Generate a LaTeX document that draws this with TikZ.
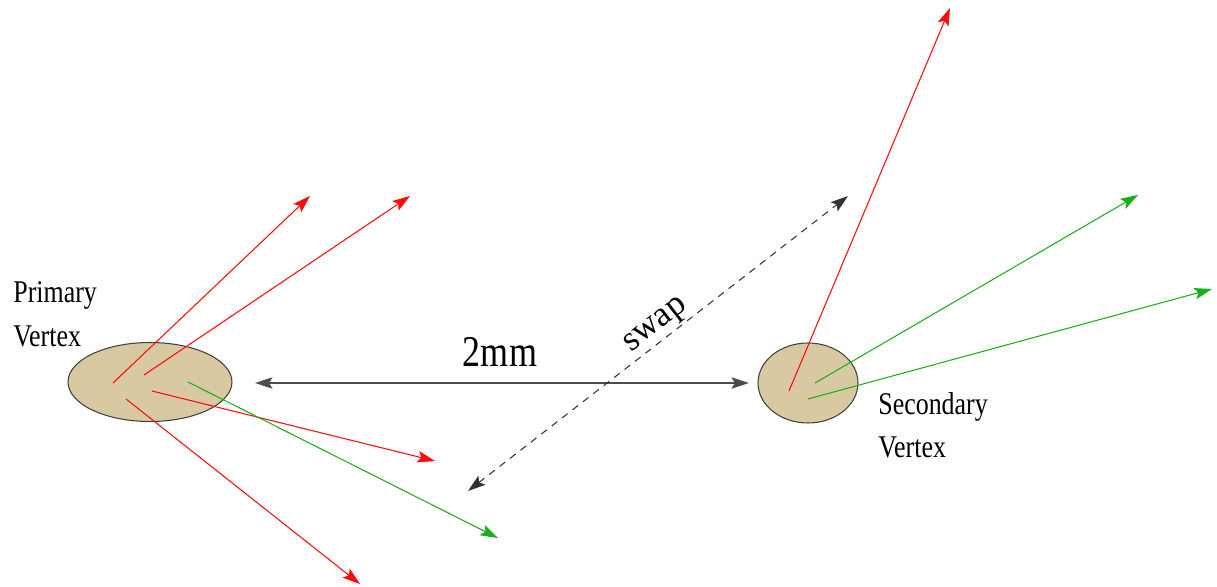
\documentclass[tikz,border=0pt]{standalone}
\usepackage{graphicx}
\usepackage{fontspec}
\setmainfont{Liberation Serif}
\usetikzlibrary{arrows.meta, shapes.geometric, positioning}

\definecolor{vtxtan}{RGB}{217,201,163}
\definecolor{trkred}{RGB}{255,10,10}
\definecolor{trkgreen}{RGB}{25,175,25}

% squeezed serif text, as in the drawing
\newcommand{\narrowtxt}[1]{\scalebox{0.82}[1]{#1}}

\tikzset{
  vtx/.style={ellipse, draw=black!75, fill=vtxtan, line width=0.6pt, inner sep=0pt},
  trk/.style={-{Stealth[length=10pt,width=6.5pt,inset=2pt]}, line width=0.6pt},
  vlabel/.style={font=\fontsize{18}{22}\selectfont, anchor=base west, inner sep=0pt},
}

\begin{document}
\begin{tikzpicture}[x=0.02cm, y=-0.02cm]
  \useasboundingbox (0,0) rectangle (1217,587);

  % the two vertices
  \node[vtx, minimum width=3.28cm, minimum height=1.58cm] (pv) at (150,382) {};
  \node[vtx, minimum width=2.0cm, minimum height=1.6cm] (sv) at (808,383) {};

  % vertex labels
  \node[vlabel] (pvtop) at (13,303) {\narrowtxt{Primary}};
  \node[vlabel] (pvbot) at (13,347) {\narrowtxt{Vertex}};
  \node[vlabel] (svtop) at (878,415) {\narrowtxt{Secondary}};
  \node[vlabel] (svbot) at (878,458) {\narrowtxt{Vertex}};

  % tracks out of the primary vertex
  \coordinate (pa) at (113,383); \coordinate (pA) at (310,196);
  \coordinate (pb) at (144,375); \coordinate (pB) at (410,196);
  \coordinate (pc) at (152,391); \coordinate (pC) at (435,461);
  \coordinate (pd) at (188,382); \coordinate (pD) at (498,538);
  \coordinate (pe) at (126,399); \coordinate (pE) at (360,584);
  \draw[trk, trkred] (pa) -- (pA);
  \draw[trk, trkred] (pb) -- (pB);
  \draw[trk, trkred] (pc) -- (pC);
  \draw[trk, trkgreen] (pd) -- (pD);
  \draw[trk, trkred] (pe) -- (pE);

  % tracks out of the secondary vertex
  \coordinate (sa) at (789,391); \coordinate (sA) at (950,8);
  \coordinate (sb) at (815,383); \coordinate (sB) at (1138,195);
  \coordinate (sc) at (808,399); \coordinate (sC) at (1212,289);
  \draw[trk, trkred] (sa) -- (sA);
  \draw[trk, trkgreen] (sb) -- (sB);
  \draw[trk, trkgreen] (sc) -- (sC);

  % flight distance
  \coordinate (dl) at (255,383);
  \coordinate (dr) at (749,383);
  \draw[{Stealth[length=10pt,width=6.5pt,inset=2pt]}-{Stealth[length=10pt,width=6.5pt,inset=2pt]},
        black!70, line width=0.7pt] (dl) -- (dr);
  \node[font=\fontsize{25}{28}\selectfont, anchor=base, inner sep=0pt] (dist) at (500,367) {\narrowtxt{2mm}};

  % swap direction
  \coordinate (wl) at (468,491);
  \coordinate (wr) at (848,196);
  \draw[{Stealth[length=10pt,width=6.5pt,inset=2pt]}-{Stealth[length=10pt,width=6.5pt,inset=2pt]},
        black!80, line width=0.6pt, dash pattern=on 4pt off 3.5pt] (wl)
        -- node[pos=0.52, sloped, above=0pt, inner sep=1pt, text=black, font=\fontsize{20}{24}\selectfont] (swp) {swap} (wr);
\end{tikzpicture}
\end{document}
